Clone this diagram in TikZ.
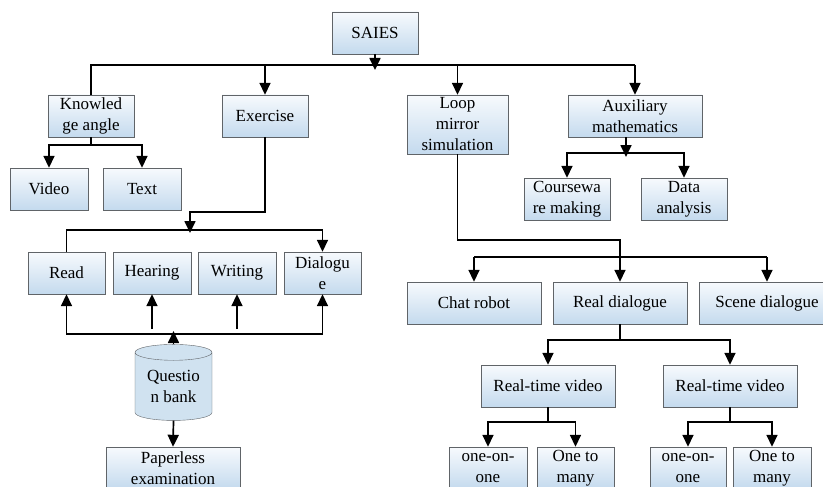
\documentclass[tikz,border=0pt]{standalone}
\usepackage{fontspec}
\setmainfont{Liberation Serif}
\usetikzlibrary{arrows.meta,shapes.geometric,calc}
\definecolor{boxtop}{HTML}{F7FAFD}
\definecolor{boxbot}{HTML}{C4DAEE}
\definecolor{bankfill}{HTML}{D0E2F0}
\definecolor{edge}{HTML}{606468}

\begin{document}
\begin{tikzpicture}[x=1pt, y=-1pt,
    box/.style={draw=edge, top color=boxtop, bottom color=boxbot, minimum height=42pt, inner sep=0pt, align=center, font=\fontsize{17}{21}\selectfont},
    line/.style={line width=1.7pt, black},
    arr/.style={line, -{Triangle[length=12pt, width=11pt]}}
]
\useasboundingbox (0,0) rectangle (823,487);

% level 0 and 1
\node[box, minimum width=86pt] (saies) at (375,33) {SAIES};
\node[box, minimum width=86pt] (knw) at (91,116) {Knowled\\ge angle};
\node[box, minimum width=86pt] (exe) at (265,116) {Exercise};
\node[box, minimum width=101pt, minimum height=59pt] (loop) at (457.5,124.5) {Loop\\mirror\\simulation};
\node[box, minimum width=134pt] (aux) at (635,116) {Auxiliary\\mathematics};

% knowledge angle and auxiliary mathematics
\node[box, minimum width=78pt] (video) at (49,189) {Video};
\node[box, minimum width=78pt] (text) at (142,189) {Text};
\node[box, minimum width=86pt] (course) at (567,199) {Coursewa\\re making};
\node[box, minimum width=86pt] (data) at (684,199) {Data\\analysis};

% exercise
\node[box, minimum width=77pt] (read) at (66.5,273) {Read};
\node[box, minimum width=78pt] (hear) at (152,273) {Hearing};
\node[box, minimum width=78pt] (write) at (237,273) {Writing};
\node[box, minimum width=77pt] (dial) at (322.5,273) {Dialogu\\e};
\node[cylinder, shape border rotate=90, aspect=0.3, draw=edge, fill=bankfill, minimum width=77pt, minimum height=76pt, inner sep=0pt, align=center, font=\fontsize{17}{21}\selectfont] (bank) at (173.5,386.5) {Questio\\n bank};
\node[box, minimum width=134pt] (paper) at (173,468) {Paperless\\examination};

% loop mirror simulation
\node[box, minimum width=134pt] (chat) at (474,303) {Chat robot};
\node[box, minimum width=134pt] (real) at (620,303) {Real dialogue};
\node[box, minimum width=136pt] (scene) at (767,303) {Scene dialogue};
\node[box, minimum width=134pt] (rtvA) at (548,386) {Real-time video};
\node[box, minimum width=134pt] (rtvB) at (730,386) {Real-time video};
\node[box, minimum width=78pt] (oneA) at (488,468) {one-on-\\one};
\node[box, minimum width=77pt] (manyA) at (575.5,468) {One to\\many};
\node[box, minimum width=76pt] (oneB) at (688,468) {one-on-\\one};
\node[box, minimum width=78pt] (manyB) at (772,468) {One to\\many};

% bus heights
\coordinate (busTop) at (0,65);
\coordinate (busKnw) at (0,145);
\coordinate (busAux) at (0,153);
\coordinate (exeTurn) at (190,212);
\coordinate (busSkill) at (0,230);
\coordinate (busBank) at (0,334);
\coordinate (busLoop) at (0,240);
\coordinate (busDlg) at (0,257);
\coordinate (busReal) at (0,340);
\coordinate (busRtv) at (0,422);

% SAIES to level 1
\draw[line] (knw.north) -- (knw.north |- busTop) -- (aux.north |- busTop);
\draw[arr, shorten >=-5pt] (saies.south) -- (saies.south |- busTop);
\draw[arr] (exe.north |- busTop) -- (exe.north);
\draw[arr] (loop.north |- busTop) -- (loop.north);
\draw[arr] (aux.north |- busTop) -- (aux.north);

% knowledge angle
\draw[line] (knw.south) -- (knw.south |- busKnw);
\draw[arr] (knw.south |- busKnw) -| (video.north);
\draw[arr] (knw.south |- busKnw) -| (text.north);

% auxiliary mathematics
\draw[arr] ([xshift=-9pt]aux.south |- busAux) -| (course.north);
\draw[arr] ([xshift=-9pt]aux.south |- busAux) -| (data.north);
\draw[arr, shorten >=-4pt] ([xshift=-9pt]aux.south) -- ([xshift=-9pt]aux.south |- busAux);

% exercise
\draw[line] (read.north) -- (read.north |- busSkill) -- (dial.north |- busSkill);
\draw[arr] (dial.north |- busSkill) -- (dial.north);
\draw[arr, shorten >=-3pt] (exe.south) |- (exeTurn) -- (exeTurn |- busSkill);
\draw[arr] (dial.south |- busBank) -| (read.south);
\draw[arr] (dial.south |- busBank) -- (dial.south);
\draw[arr] ($(hear.south)+(0,35)$) -- (hear.south);
\draw[arr] ($(write.south)+(0,35)$) -- (write.south);
\draw[arr, shorten >=-3pt] (bank.north) -- (bank.north |- busBank);
\draw[arr] (bank.south) -- (paper.north);

% loop mirror simulation
\draw[arr] (loop.south) |- (real.north |- busLoop) -- (real.north);
\draw[arr] (chat.north |- busDlg) -- (chat.north);
\draw[line] (chat.north |- busDlg) -- (scene.north |- busDlg);
\draw[arr] (scene.north |- busDlg) -- (scene.north);
\draw[line] (real.south) -- (real.south |- busReal);
\draw[arr] (real.south |- busReal) -| (rtvA.north);
\draw[arr] (real.south |- busReal) -| (rtvB.north);
\draw[line] (rtvA.south) -- (rtvA.south |- busRtv);
\draw[arr] (rtvA.south |- busRtv) -| (oneA.north);
\draw[arr] (rtvA.south |- busRtv) -| (manyA.north);
\draw[line] (rtvB.south) -- (rtvB.south |- busRtv);
\draw[arr] (rtvB.south |- busRtv) -| (oneB.north);
\draw[arr] (rtvB.south |- busRtv) -| (manyB.north);
\end{tikzpicture}
\end{document}
